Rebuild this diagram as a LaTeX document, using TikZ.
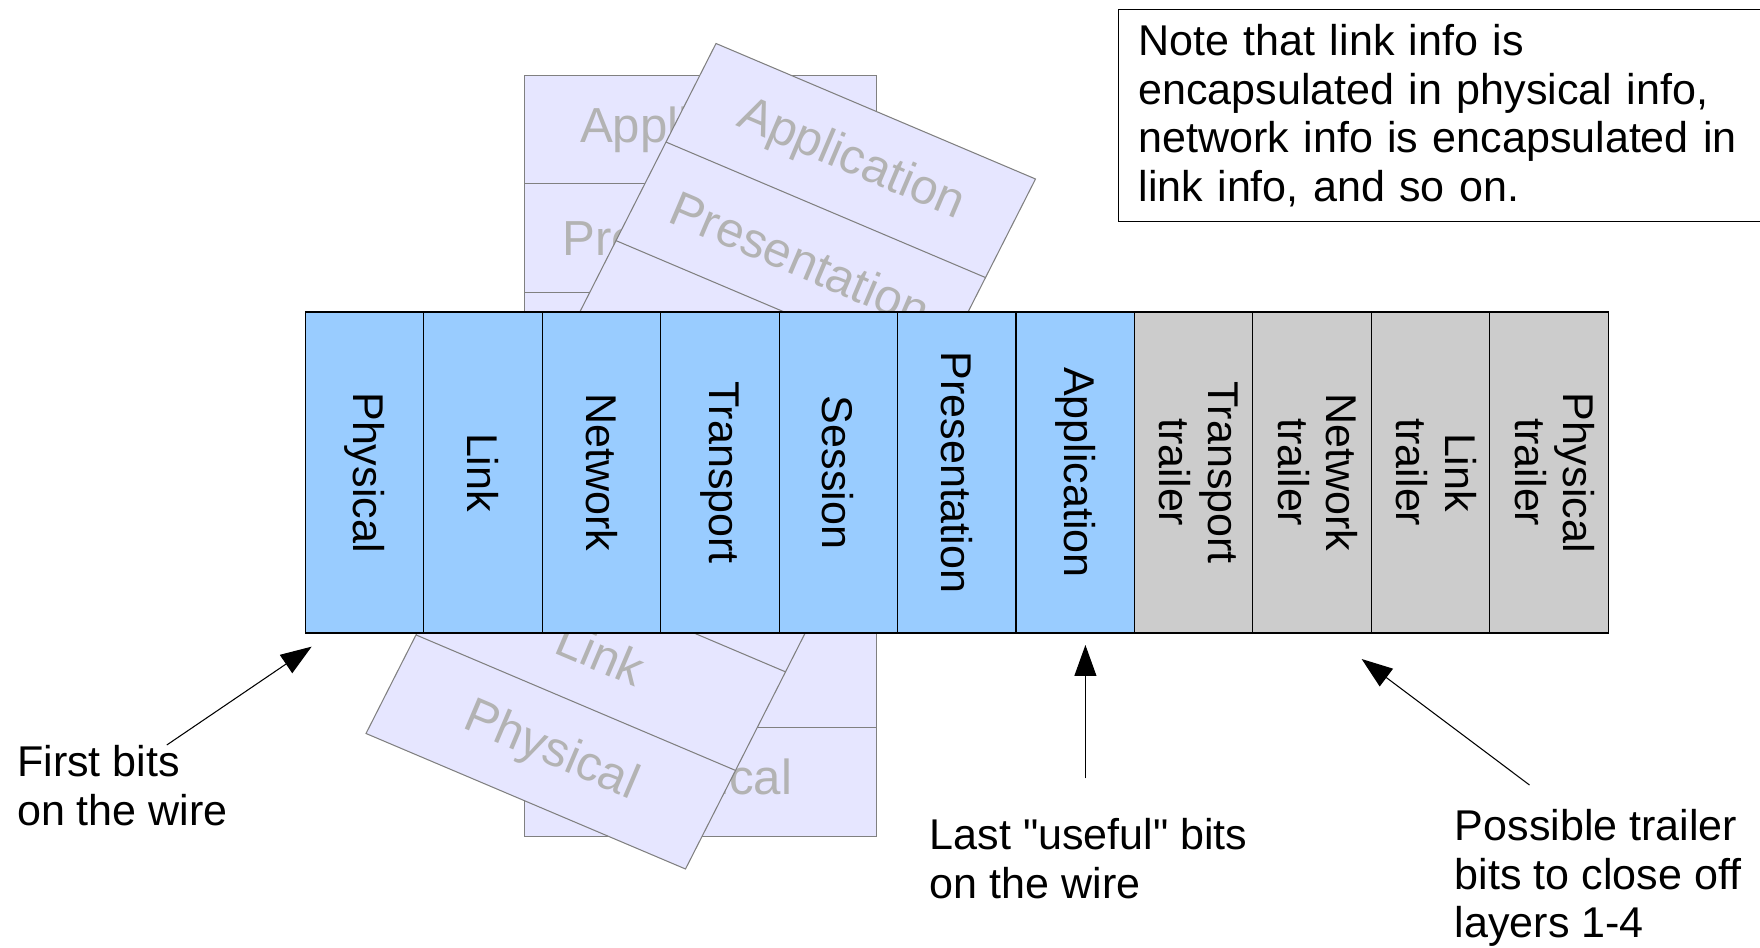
\documentclass[tikz,border=0pt]{standalone}
\usepackage{fontspec}
\setmainfont{Liberation Sans}
\usepackage{graphicx}
\usepackage{tikz}
\usetikzlibrary{positioning, calc, arrows.meta}

\definecolor{layerfill}{HTML}{E6E6FF}
\definecolor{layerline}{HTML}{808080}
\definecolor{layertext}{HTML}{B3B3B3}
\definecolor{hdrblue}{HTML}{99CCFF}
\definecolor{trlgray}{HTML}{CCCCCC}

\begin{document}
\begin{tikzpicture}[
  every node/.style={font=\fontsize{24.5}{27.6}\selectfont},
  hdr/.style={draw, fill=hdrblue, line width=0.6pt, minimum width=2.369cm,
    minimum height=6.42cm, inner sep=0pt, outer sep=0pt},
  trl/.style={hdr, fill=trlgray},
  ghost/.style={text=layertext, font=\fontsize{28}{32}\selectfont},
  layer/.style={layerline, line width=0.6pt},
  pointer/.style={-{Triangle[length=0.62cm,width=0.44cm]}, line width=0.6pt}
]
\useasboundingbox (0,0) rectangle (35.2,18.94);
\clip (0,0) rectangle (35.2,18.94);

% the upright stack of layers
\draw[layer, fill=layerfill] (10.484,2.216) rectangle (17.532,17.436);
\draw[layer] (10.484,15.262) -- (17.532,15.262);
\draw[layer] (10.484,13.088) -- (17.532,13.088);
\draw[layer] (10.484,10.913) -- (17.532,10.913);
\draw[layer] (10.484,8.739) -- (17.532,8.739);
\draw[layer] (10.484,6.565) -- (17.532,6.565);
\draw[layer] (10.484,4.390) -- (17.532,4.390);
\node[ghost] (appA) at (14.008,16.349) {Application};
\node[ghost] (presA) at (14.008,14.174) {Presentation};
\node[ghost] (physA) at (14.008,3.303) {Physical};

% the same stack, tipped over
\coordinate (tl) at (14.32,18.07);
\coordinate (tr) at (20.71,15.36);
\coordinate (bl) at (7.32,4.27);
\coordinate (br) at (13.71,1.56);
\draw[layer, fill=layerfill] (tl) -- (tr) -- (br) -- (bl) -- cycle;
\foreach \k in {1,...,6}
  \draw[layer] ($(tl)!\k/7!(bl)$) -- ($(tr)!\k/7!(br)$);
\node[ghost, rotate=-23] (appB) at (17.015,15.729) {Application};
\node[ghost, rotate=-23] (presB) at (16.015,13.757) {Presentation};
\node[ghost, rotate=-23] (linkB) at (12.015,5.872) {Link};
\node[ghost, rotate=-23] (physB) at (11.015,3.901) {Physical};

% the frame as it goes on the wire
\node[hdr, anchor=north west] (phys) at (6.106,12.7) {\rotatebox{-90}{Physical}};
\node[hdr, right=0pt of phys] (link) {\rotatebox{-90}{Link}};
\node[hdr, right=0pt of link] (net) {\rotatebox{-90}{Network}};
\node[hdr, right=0pt of net] (trans) {\rotatebox{-90}{Transport}};
\node[hdr, right=0pt of trans] (sess) {\rotatebox{-90}{Session}};
\node[hdr, right=0pt of sess] (pres) {\rotatebox{-90}{Presentation}};
\node[hdr, right=0pt of pres] (app) {\rotatebox{-90}{Application}};
\node[trl, right=0pt of app] (transtr)
  {\rotatebox{-90}{\begin{tabular}{@{}c@{}}Transport\\trailer\end{tabular}}};
\node[trl, right=0pt of transtr] (nettr)
  {\rotatebox{-90}{\begin{tabular}{@{}c@{}}Network\\trailer\end{tabular}}};
\node[trl, right=0pt of nettr] (linktr)
  {\rotatebox{-90}{\begin{tabular}{@{}c@{}}Link\\trailer\end{tabular}}};
\node[trl, right=0pt of linktr] (phystr)
  {\rotatebox{-90}{\begin{tabular}{@{}c@{}}Physical\\trailer\end{tabular}}};

% callouts
\node[anchor=north west, align=left, inner sep=0pt] (firstlbl) at (0.336,4.04)
  {First bits\\on the wire};
\coordinate (firsttip) at (6.233,6.007);
\draw[pointer] ([xshift=3cm]firstlbl.north west) -- (firsttip);

\node[anchor=north west, align=left, inner sep=0pt] (lastlbl) at (18.588,2.58)
  {Last \textquotedbl useful\textquotedbl{} bits\\on the wire};
\coordinate (lasttip) at (21.708,6.04);
\draw[pointer] ([yshift=0.79cm]lastlbl.north -| lasttip) -- (lasttip);

\node[anchor=north west, align=left, inner sep=0pt] (traillbl) at (29.09,2.76)
  {Possible trailer\\bits to close off\\layers 1-4};
\coordinate (trailtip) at (27.232,5.76);
\draw[pointer] ([shift={(1.5,0.48)}]traillbl.north west) -- (trailtip);

\node[draw, line width=0.6pt, anchor=north west, align=left, text width=14cm,
  inner xsep=0.4cm, inner ysep=0.15cm, minimum height=4.24cm] (note) at (22.36,18.76)
  {Note that link info is\\encapsulated in physical info,\\network info is encapsulated in\\link info, and so on.};
\end{tikzpicture}
\end{document}
